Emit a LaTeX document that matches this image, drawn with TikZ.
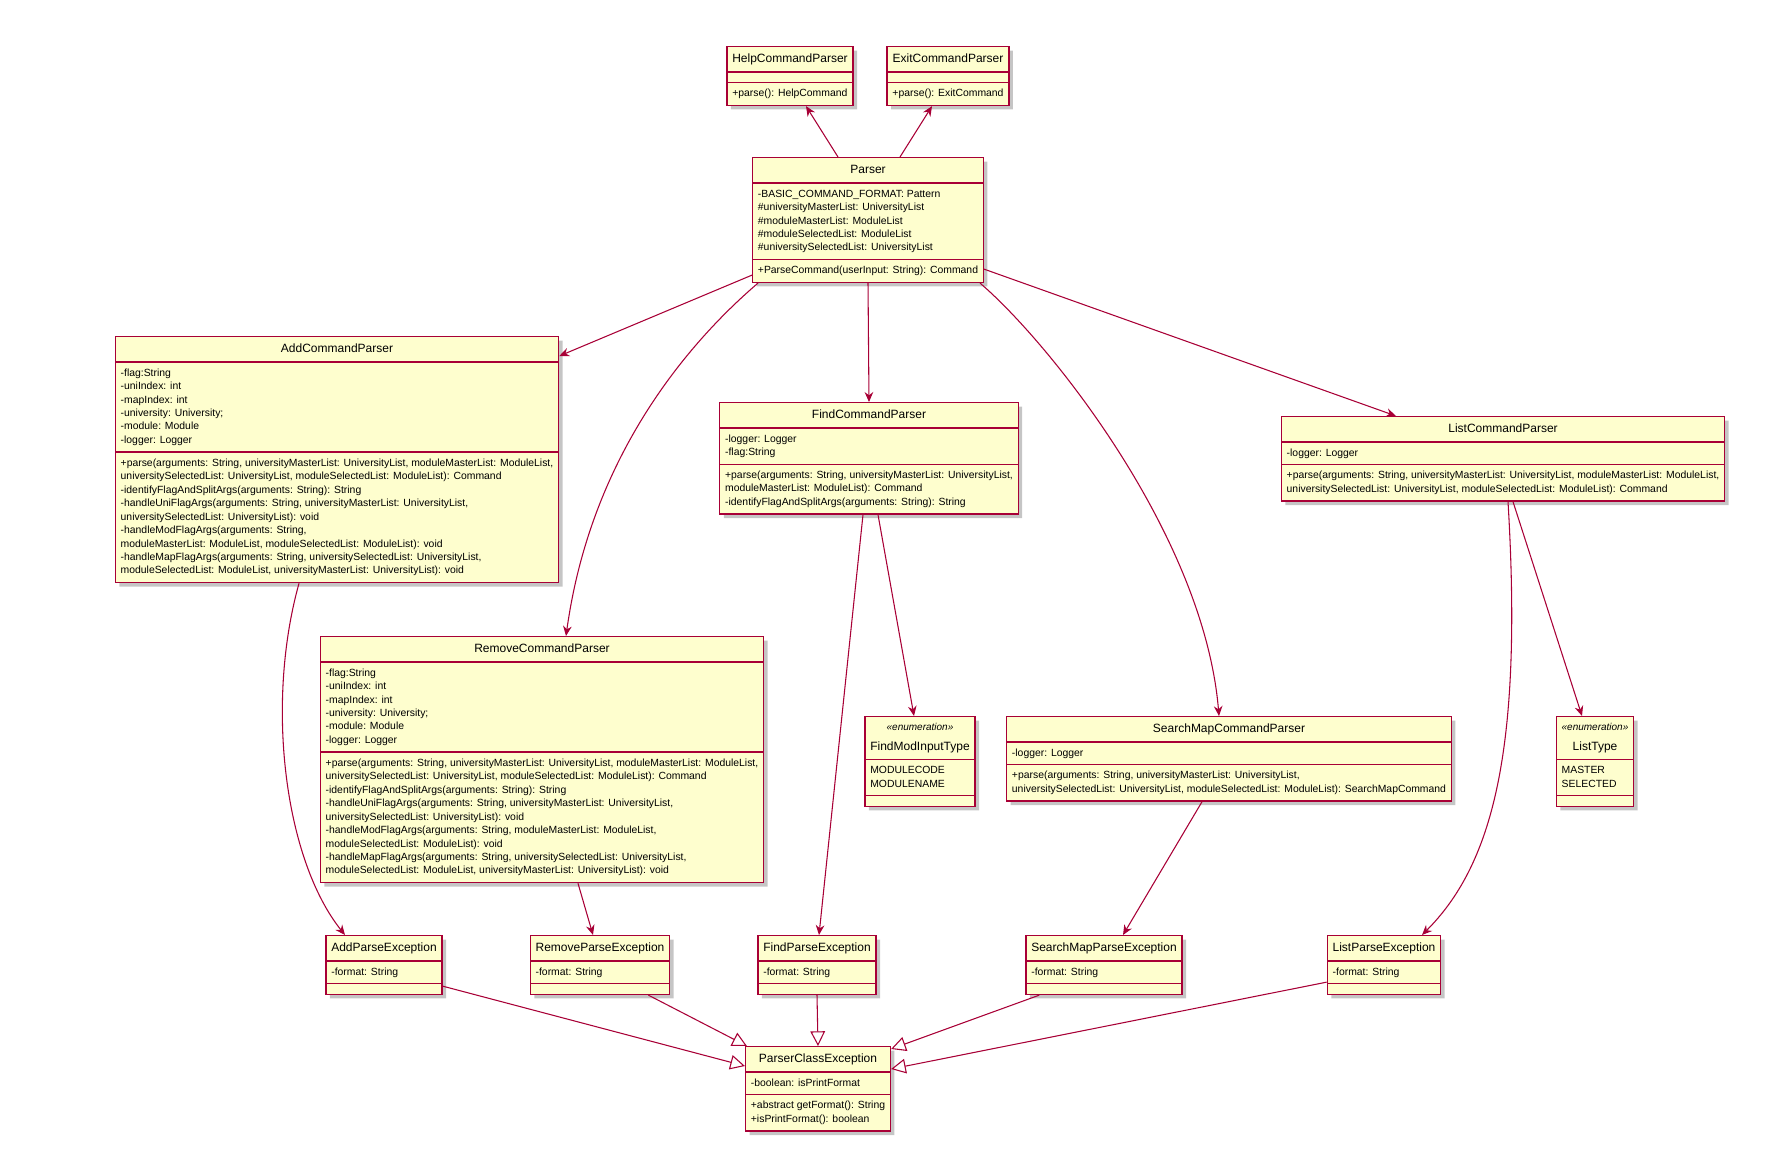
\documentclass[tikz,border=0pt]{standalone}
\usepackage{fontspec}
\setmainfont{Liberation Sans}
\usetikzlibrary{arrows.meta,shapes.multipart,shadows,calc}
\definecolor{umlfill}{HTML}{FEFECE}
\definecolor{umlline}{HTML}{A80036}
\newcommand{\cname}[1]{{\fontsize{9}{11}\selectfont\rule[-3.5pt]{0pt}{12pt}#1}}
\newcommand{\enumname}[1]{\begin{tabular}{@{}c@{}}{\fontsize{7.5}{9}\selectfont\itshape «enumeration»}\\[3pt]\cname{#1}\end{tabular}}
\newcommand{\members}[1]{\begin{tabular}{@{}l@{}}#1\end{tabular}}
\newcommand{\nomembers}{\rule{0pt}{1pt}}

\begin{document}
\begin{tikzpicture}[
  x=0.75pt, y=-0.75pt,
  font=\fontsize{7.8}{10.1}\selectfont,
  >={Stealth[length=7.5pt,width=6.5pt,inset=2.5pt]},
  umlclass/.style={rectangle split, rectangle split parts=3, draw=umlline, line width=1pt, fill=umlfill, rectangle split part align={center,left,left}, inner xsep=4pt, inner ysep=3pt, anchor=north, drop shadow={shadow xshift=3pt, shadow yshift=-3pt, fill=black!45, opacity=0.5}},
  assoc/.style={->, draw=umlline, line width=0.8pt},
  extends/.style={-{Triangle[open,fill=white,length=11pt,width=11pt]}, draw=umlline, line width=0.8pt},
]
\useasboundingbox (0,0) rectangle (1787,1173);

% top row
\node[umlclass] (help) at (790,46) {\cname{HelpCommandParser}\nodepart{two}\nomembers\nodepart{three}\members{+parse(): HelpCommand}};
\node[umlclass] (exit) at (948,46) {\cname{ExitCommandParser}\nodepart{two}\nomembers\nodepart{three}\members{+parse(): ExitCommand}};
\node[umlclass] (parser) at (868,157) {\cname{Parser}\nodepart{two}\members{-BASIC\_COMMAND\_FORMAT: Pattern\\
  \#universityMasterList: UniversityList\\
  \#moduleMasterList: ModuleList\\
  \#moduleSelectedList: ModuleList\\
  \#universitySelectedList: UniversityList}\nodepart{three}\members{+ParseCommand(userInput: String): Command}};

% command parsers
\node[umlclass] (add) at (337,336) {\cname{AddCommandParser}\nodepart{two}\members{-flag:String\\
  -uniIndex: int\\
  -mapIndex: int\\
  -university: University;\\
  -module: Module\\
  -logger: Logger}\nodepart{three}\members{+parse(arguments: String, universityMasterList: UniversityList, moduleMasterList: ModuleList,\\
  universitySelectedList: UniversityList, moduleSelectedList: ModuleList): Command\\
  -identifyFlagAndSplitArgs(arguments: String): String\\
  -handleUniFlagArgs(arguments: String, universityMasterList: UniversityList,\\
  universitySelectedList: UniversityList): void\\
  -handleModFlagArgs(arguments: String,\\
  moduleMasterList: ModuleList, moduleSelectedList: ModuleList): void\\
  -handleMapFlagArgs(arguments: String, universitySelectedList: UniversityList,\\
  moduleSelectedList: ModuleList, universityMasterList: UniversityList): void}};
\node[umlclass] (find) at (869,402) {\cname{FindCommandParser}\nodepart{two}\members{-logger: Logger\\
  -flag:String}\nodepart{three}\members{+parse(arguments: String, universityMasterList: UniversityList,\\
  moduleMasterList: ModuleList): Command\\
  -identifyFlagAndSplitArgs(arguments: String): String}};
\node[umlclass] (list) at (1503,416) {\cname{ListCommandParser}\nodepart{two}\members{-logger: Logger}\nodepart{three}\members{+parse(arguments: String, universityMasterList: UniversityList, moduleMasterList: ModuleList,\\
  universitySelectedList: UniversityList, moduleSelectedList: ModuleList): Command}};
\node[umlclass] (remove) at (542,636) {\cname{RemoveCommandParser}\nodepart{two}\members{-flag:String\\
  -uniIndex: int\\
  -mapIndex: int\\
  -university: University;\\
  -module: Module\\
  -logger: Logger}\nodepart{three}\members{+parse(arguments: String, universityMasterList: UniversityList, moduleMasterList: ModuleList,\\
  universitySelectedList: UniversityList, moduleSelectedList: ModuleList): Command\\
  -identifyFlagAndSplitArgs(arguments: String): String\\
  -handleUniFlagArgs(arguments: String, universityMasterList: UniversityList,\\
  universitySelectedList: UniversityList): void\\
  -handleModFlagArgs(arguments: String, moduleMasterList: ModuleList,\\
  moduleSelectedList: ModuleList): void\\
  -handleMapFlagArgs(arguments: String, universitySelectedList: UniversityList,\\
  moduleSelectedList: ModuleList, universityMasterList: UniversityList): void}};
\node[umlclass] (search) at (1229,716) {\cname{SearchMapCommandParser}\nodepart{two}\members{-logger: Logger}\nodepart{three}\members{+parse(arguments: String, universityMasterList: UniversityList,\\
  universitySelectedList: UniversityList, moduleSelectedList: ModuleList): SearchMapCommand}};

% enumerations
\node[umlclass] (findtype) at (920,716) {\enumname{FindModInputType}\nodepart{two}\members{MODULECODE\\
  MODULENAME}\nodepart{three}\nomembers};
\node[umlclass] (listtype) at (1595,716) {\enumname{ListType}\nodepart{two}\members{MASTER\\
  SELECTED}\nodepart{three}\nomembers};

% exceptions
\node[umlclass] (addex) at (384,935) {\cname{AddParseException}\nodepart{two}\members{-format: String}\nodepart{three}\nomembers};
\node[umlclass] (removeex) at (600,935) {\cname{RemoveParseException}\nodepart{two}\members{-format: String}\nodepart{three}\nomembers};
\node[umlclass] (findex) at (817,935) {\cname{FindParseException}\nodepart{two}\members{-format: String}\nodepart{three}\nomembers};
\node[umlclass] (searchex) at (1104,935) {\cname{SearchMapParseException}\nodepart{two}\members{-format: String}\nodepart{three}\nomembers};
\node[umlclass] (listex) at (1384,935) {\cname{ListParseException}\nodepart{two}\members{-format: String}\nodepart{three}\nomembers};
\node[umlclass] (pce) at (818,1046) {\cname{ParserClassException}\nodepart{two}\members{-boolean: isPrintFormat}\nodepart{three}\members{+abstract getFormat(): String\\
  +isPrintFormat(): boolean}};

% associations
\draw[assoc] ($(parser.north)+(-30,0)$) -- ($(help.south)+(16,0)$);
\draw[assoc] ($(parser.north)+(32,0)$) -- ($(exit.south)+(-16,0)$);
\draw[assoc] ($(parser.south west)+(0,-8)$) -- ($(add.north east)+(0,20)$);
\draw[assoc] ($(parser.south west)+(6,0)$) .. controls +(-70,60) and +(25,-180) .. ($(remove.north)+(24,0)$);
\draw[assoc] (parser.south) -- (find.north);
\draw[assoc] ($(parser.south east)+(-4,0)$) .. controls +(70,60) and +(-15,-180) .. ($(search.north)+(-10,0)$);
\draw[assoc] ($(parser.south east)+(0,-14)$) -- ($(list.north)+(-107,0)$);
\draw[assoc] ($(add.south)+(-38,0)$) .. controls +(-34,122) and +(-60,-75) .. ($(addex.north)+(-39,0)$);
\draw[assoc] ($(find.south)+(9,0)$) -- ($(findtype.north)+(-6,0)$);
\draw[assoc] ($(find.south)+(-6,0)$) -- ($(findex.north)+(2,0)$);
\draw[assoc] ($(list.south)+(10,0)$) -- ($(listtype.north)+(-13,0)$);
\draw[assoc] ($(list.south)+(5,0)$) .. controls +(15,250) and +(70,-70) .. ($(listex.north)+(38,0)$);
\draw[assoc] ($(remove.south)+(36,0)$) -- ($(removeex.north)+(-7,0)$);
\draw[assoc] ($(search.south)+(-27,0)$) -- ($(searchex.north)+(19,0)$);

% generalisations
\draw[extends] ($(addex.south east)+(0,-9)$) -- ($(pce.north west)+(0,20)$);
\draw[extends] ($(removeex.south east)+(-22,0)$) -- ($(pce.north west)+(2,0)$);
\draw[extends] (findex.south) -- (pce.north);
\draw[extends] ($(searchex.south west)+(14,0)$) -- ($(pce.north east)+(0,3)$);
\draw[extends] ($(listex.south west)+(0,-13)$) -- ($(pce.north east)+(0,23)$);
\end{tikzpicture}
\end{document}
